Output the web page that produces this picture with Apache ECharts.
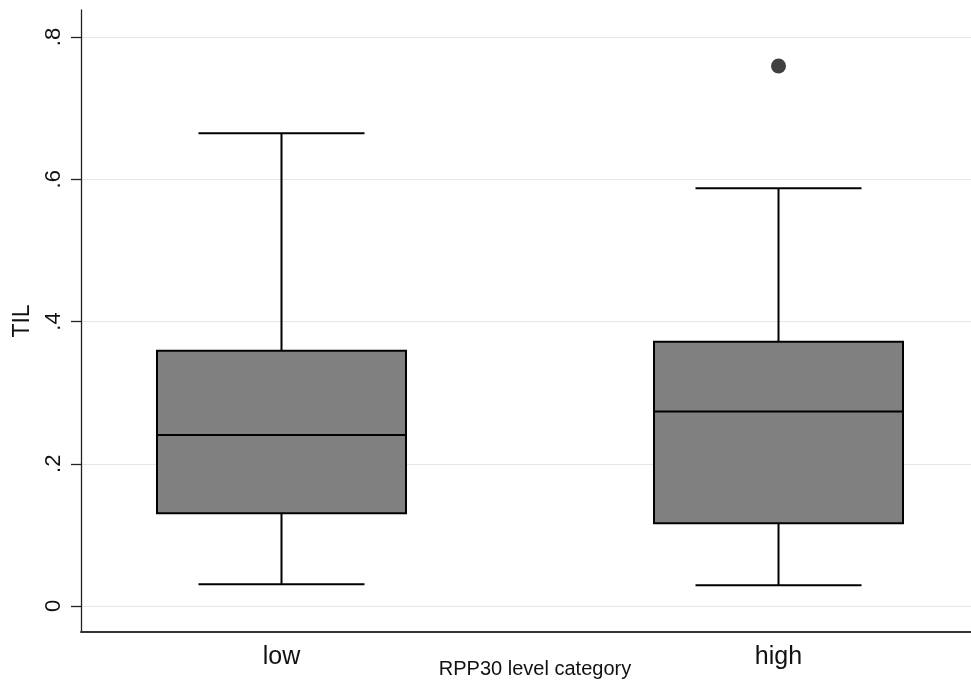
<!DOCTYPE html>
<html>
<head>
<meta charset="utf-8">
<script src="https://cdn.jsdelivr.net/npm/echarts@6/dist/echarts.min.js"></script>
<style>
html,body{margin:0;padding:0;background:#fff;}
#chart{width:971px;height:686px;}
</style>
</head>
<body>
<div id="chart"></div>
<script>
// ---- data ----
const categories = ['low', 'high'];
const whiskerLow = [0.0305, 0.0290];
const q1 = [0.1303, 0.1164];
const median = [0.2404, 0.2736];
const q3 = [0.3590, 0.3715];
const whiskerHigh = [0.6646, 0.5874];
const outlierCategory = ['high'];
const outlierValue = [0.7592];
const yTickValues = [0, 0.2, 0.4, 0.6, 0.8];
const yTickLabels = ['0', '.2', '.4', '.6', '.8'];

// ---- build ----
const boxData = categories.map((c, i) => [i + 1, whiskerLow[i], q1[i], median[i], q3[i], whiskerHigh[i]]);
const outlierData = outlierCategory.map((c, i) => [categories.indexOf(c) + 1, outlierValue[i]]);
const BOX_HALF = 0.2505;
const CAP_HALF = 0.167;
const FONT = 'Liberation Sans, Arial, Helvetica, sans-serif';

const chart = echarts.init(document.getElementById('chart'), null, {renderer: 'canvas'});
chart.setOption({
  backgroundColor: '#ffffff',
  animation: false,
  grid: {left: 81, right: 0, top: 10, bottom: 54, containLabel: false, outerBoundsMode: 'none'},
  xAxis: {
    type: 'value',
    min: 0.5966,
    max: 2.3873,
    splitLine: {show: false},
    axisTick: {show: false},
    axisLine: {show: true, onZero: false, lineStyle: {color: '#333333', width: 2}},
    axisLabel: {
      customValues: [1, 2],
      formatter: v => categories[Math.round(v) - 1] || '',
      color: '#111', fontSize: 25, fontFamily: FONT, margin: 13
    },
    name: 'RPP30 level category',
    nameLocation: 'middle',
    nameMoveOverlap: false,
    nameGap: 27,
    nameTextStyle: {color: '#111', fontSize: 20, fontFamily: FONT, padding: [0, 0, 0, 18]}
  },
  yAxis: {
    type: 'value',
    min: -0.03656,
    max: 0.838,
    splitLine: {show: false},
    axisLine: {show: true, onZero: false, lineStyle: {color: '#222', width: 1.3}},
    axisTick: {show: true, customValues: yTickValues, length: 10, lineStyle: {color: '#222', width: 1.3}},
    axisLabel: {
      customValues: yTickValues,
      formatter: v => { const k = yTickValues.findIndex(t => Math.abs(t - v) < 1e-9); return k >= 0 ? yTickLabels[k] : ''; },
      rotate: 90, color: '#111', fontSize: 22, fontFamily: FONT, margin: 16
    },
    name: 'TIL',
    nameLocation: 'middle',
    nameMoveOverlap: false,
    nameRotate: 90,
    nameGap: 47,
    nameTextStyle: {color: '#111', fontSize: 23, fontFamily: FONT}
  },
  series: [
    {
      type: 'scatter',
      z: 1,
      data: outlierData,
      symbol: 'circle',
      symbolSize: 15,
      itemStyle: {color: '#404040', opacity: 1},
      silent: true,
      markLine: {
        silent: true,
        z: 0,
        symbol: 'none',
        label: {show: false},
        lineStyle: {color: '#e6e6e6', width: 1.2, type: 'solid'},
        data: yTickValues.map(v => ({yAxis: v}))
      }
    },
    {
      type: 'custom',
      z: 10,
      data: boxData,
      renderItem: function (params, api) {
        const x = api.value(0);
        const c = v => api.coord([x, v]);
        const pMin = c(api.value(1)), pQ1 = c(api.value(2)), pMed = c(api.value(3)),
              pQ3 = c(api.value(4)), pMax = c(api.value(5));
        const cx = pMin[0];
        const half = api.size([BOX_HALF, 0])[0];
        const capHalf = api.size([CAP_HALF, 0])[0];
        const ls = {stroke: '#000', lineWidth: 2, fill: null};
        return {
          type: 'group',
          children: [
            {type: 'line', shape: {x1: cx, y1: pQ3[1], x2: cx, y2: pMax[1]}, style: ls},
            {type: 'line', shape: {x1: cx, y1: pQ1[1], x2: cx, y2: pMin[1]}, style: ls},
            {type: 'line', shape: {x1: cx - capHalf, y1: pMax[1], x2: cx + capHalf, y2: pMax[1]}, style: ls},
            {type: 'line', shape: {x1: cx - capHalf, y1: pMin[1], x2: cx + capHalf, y2: pMin[1]}, style: ls},
            {type: 'rect', shape: {x: cx - half, y: pQ3[1], width: 2 * half, height: pQ1[1] - pQ3[1]},
              style: {fill: '#808080', stroke: '#000', lineWidth: 2}},
            {type: 'line', shape: {x1: cx - half, y1: pMed[1], x2: cx + half, y2: pMed[1]}, style: ls}
          ]
        };
      }
    }
  ]
});
</script>
</body>
</html>
